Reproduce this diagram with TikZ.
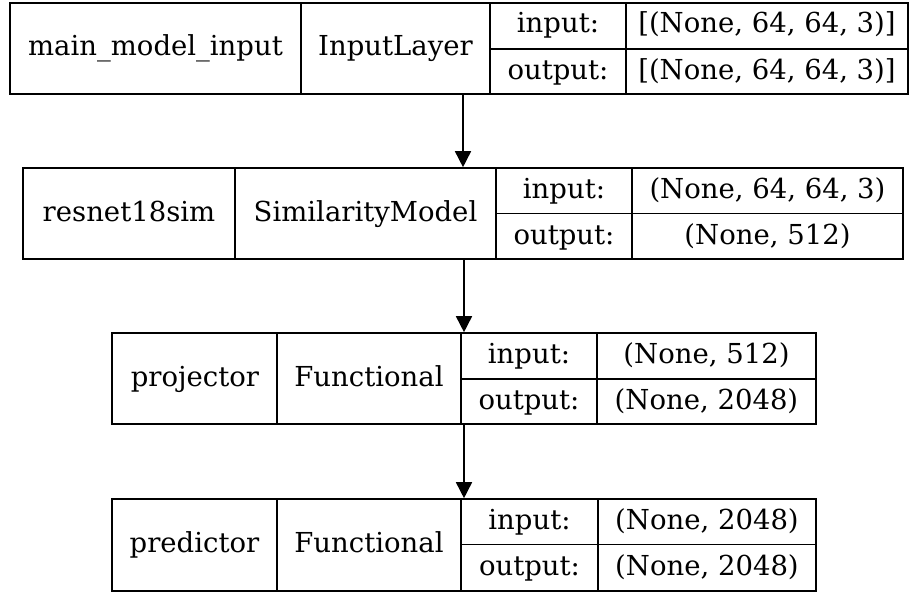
\documentclass[tikz,border=0pt]{standalone}
\usepackage{fontspec}
\setmainfont{DejaVu Serif}
\usetikzlibrary{arrows.meta}

\tikzset{
  layerbox/.style={draw=black, line width=1.6pt, inner sep=0pt},
  rule/.style={draw=black, line width=1.6pt},
  lbl/.style={inner sep=0pt, anchor=base, font=\fontsize{27.5}{30}\selectfont},
  flow/.style={draw=black, line width=1.6pt,
    -{Triangle[length=16pt,width=16pt]}},
}

\begin{document}
\begin{tikzpicture}[x=1pt, y=-1pt]
\useasboundingbox (0,0) rectangle (910,594);

% main_model_input : InputLayer
\node[layerbox, minimum width=898pt, minimum height=91pt] (L1) at (459,48.5) {};
\draw[rule] (301,3) -- (301,94) (490,3) -- (490,94) (626,3) -- (626,94)
            (490,49) -- (908,49);
\node[lbl] (L1n) at (155.5,56) {main\_model\_input};
\node[lbl] (L1c) at (395.5,56) {InputLayer};
\node[lbl] (L1i) at (558,33) {input:};
\node[lbl] (L1o) at (558,79) {output:};
\node[lbl] (L1iv) at (767,33) {[(None, 64, 64, 3)]};
\node[lbl] (L1ov) at (767,79) {[(None, 64, 64, 3)]};

% resnet18sim : SimilarityModel
\node[layerbox, minimum width=880pt, minimum height=91pt] (L2) at (463,213.5) {};
\draw[rule] (235,168) -- (235,259) (496,168) -- (496,259) (632,168) -- (632,259)
            (496,213.5) -- (903,213.5);
\node[lbl] (L2n) at (129,221) {resnet18sim};
\node[lbl] (L2c) at (365.5,221) {SimilarityModel};
\node[lbl] (L2i) at (564,198) {input:};
\node[lbl] (L2o) at (564,244) {output:};
\node[lbl] (L2iv) at (767.5,198) {(None, 64, 64, 3)};
\node[lbl] (L2ov) at (767.5,244) {(None, 512)};

% projector : Functional
\node[layerbox, minimum width=704pt, minimum height=91pt] (L3) at (464,378.5) {};
\draw[rule] (277,333) -- (277,424) (461,333) -- (461,424) (597,333) -- (597,424)
            (461,379) -- (816,379);
\node[lbl] (L3n) at (195,386) {projector};
\node[lbl] (L3c) at (369,386) {Functional};
\node[lbl] (L3i) at (529,363) {input:};
\node[lbl] (L3o) at (529,409) {output:};
\node[lbl] (L3iv) at (706.5,363) {(None, 512)};
\node[lbl] (L3ov) at (706.5,409) {(None, 2048)};

% predictor : Functional
\node[layerbox, minimum width=704pt, minimum height=92pt] (L4) at (464,545) {};
\draw[rule] (277,499) -- (277,591) (461,499) -- (461,591) (598,499) -- (598,591)
            (461,544.5) -- (816,544.5);
\node[lbl] (L4n) at (194.5,552.5) {predictor};
\node[lbl] (L4c) at (369,552.5) {Functional};
\node[lbl] (L4i) at (529.5,529.5) {input:};
\node[lbl] (L4o) at (529.5,575.5) {output:};
\node[lbl] (L4iv) at (707,529.5) {(None, 2048)};
\node[lbl] (L4ov) at (707,575.5) {(None, 2048)};

% data flow between layers
\draw[flow] (L2.north |- L1.south) -- (L2.north);
\draw[flow] (L3.north |- L2.south) -- (L3.north);
\draw[flow] (L4.north |- L3.south) -- (L4.north);
\end{tikzpicture}
\end{document}
